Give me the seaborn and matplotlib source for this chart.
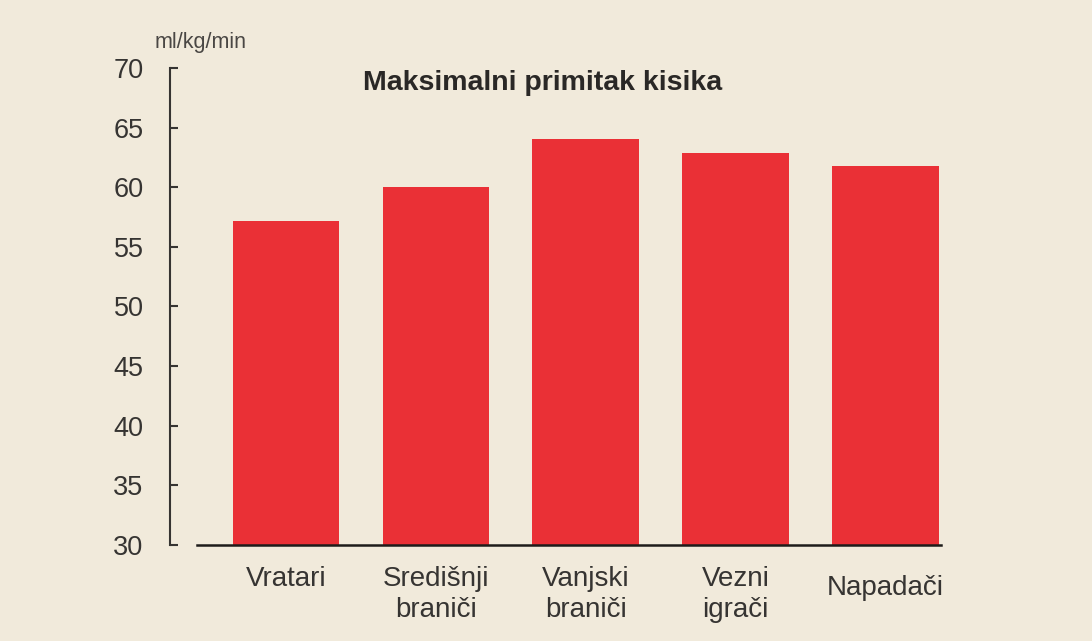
import matplotlib.pyplot as plt
import matplotlib.transforms as mtransforms
import seaborn as sns
import pandas as pd

# data
positions = ["Vratari", "Središnji\nbraniči", "Vanjski\nbraniči", "Vezni\nigrači", "Napadači"]
vo2max = [57.2, 60.0, 64.0, 62.9, 61.8]
yticks = [30, 35, 40, 45, 50, 55, 60, 65, 70]

df = pd.DataFrame({"pozicija": positions, "vo2": vo2max})

sns.set_theme(style="white")
plt.rcParams['font.family'] = ['Liberation Sans', 'DejaVu Sans']
plt.rcParams['ytick.direction'] = 'in'
bg = "#F1EADB"
txt = "#363432"

fig = plt.figure(figsize=(10.92, 6.41), dpi=100, facecolor=bg)
ax = fig.add_axes([0.1557, 0.150, 0.71, 0.744], facecolor=bg)

sns.barplot(data=df, x="pozicija", y="vo2", color="#EA3036", width=0.71,
            saturation=1, linewidth=0, ax=ax)
# bars start at the axis floor
for p in ax.patches:
    h = p.get_height()
    p.set_y(30)
    p.set_height(h - 30)

ax.set_ylim(30, 70)
ax.set_xlim(-0.773, 4.4)
ax.set_yticks(yticks)
ax.set_xlabel("")
ax.set_ylabel("")

for s in ["top", "right"]:
    ax.spines[s].set_visible(False)
ax.spines["left"].set_color(txt)
ax.spines["left"].set_linewidth(1.5)
ax.spines["bottom"].set_color("#1E1C1A")
ax.spines["bottom"].set_linewidth(1.8)
ax.spines["bottom"].set_bounds(-0.59, 4.37)

ax.tick_params(axis="y", direction="in", length=6, width=1.5, color=txt,
               labelsize=19.5, labelcolor=txt, pad=19, left=True)
ax.tick_params(axis="x", length=0, labelsize=20, labelcolor=txt, pad=15)
for lab in ax.get_xticklabels():
    lab.set_linespacing(1.25)
# Napadači sits a bit lower than the single-line Vratari
lbl = ax.get_xticklabels()[4]
lbl.set_transform(lbl.get_transform() +
                  mtransforms.ScaledTranslation(0, -7 / 72, fig.dpi_scale_trans))

fig.text(0.497, 0.870, "Maksimalni primitak kisika", ha="center", va="center",
         fontsize=20.5, fontweight="bold", color="#2A2826")
fig.text(0.184, 0.933, "ml/kg/min", ha="center", va="center",
         fontsize=15.5, color="#4A4744")

fig.savefig("out.png", dpi=100, facecolor=bg)
